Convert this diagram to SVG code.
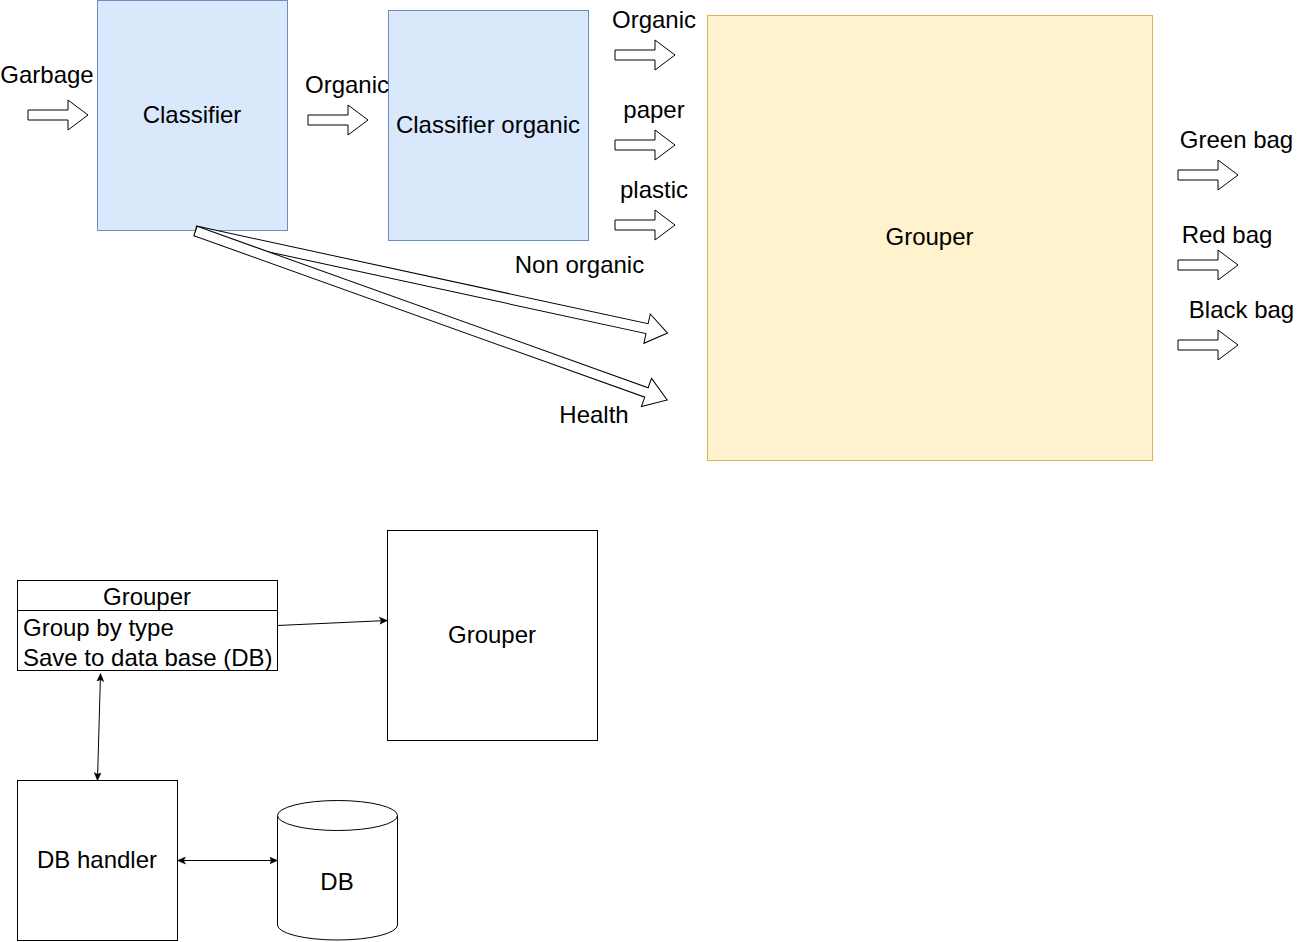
<svg xmlns="http://www.w3.org/2000/svg" width="1308" height="942" viewBox="0 0 1308 942">
<style>
text{font-family:"Liberation Sans",Arial,sans-serif;font-size:24px;fill:#000;}
.c{text-anchor:middle;}
.blue{fill:#dae8fc;stroke:#6c8ebf;stroke-width:1;}
.yellow{fill:#fff2cc;stroke:#d6b656;stroke-width:1;}
.plain{fill:#fff;stroke:#000;stroke-width:1;}
.barrow{fill:#fff;stroke:#000;stroke-width:1;stroke-linejoin:miter;}
.conn{fill:none;stroke:#000;stroke-width:1;}
</style>
<defs>
<path id="ba" d="M0,-5 H40 V-15 L60,0 L40,15 V5 H0 Z"/>
<marker id="arr" viewBox="0 0 8 8" refX="7.5" refY="4" markerWidth="8" markerHeight="8" markerUnits="userSpaceOnUse" orient="auto-start-reverse">
<path d="M0,0.5 L8,4 L0,7.5 L2,4 Z" fill="#000" stroke="#000" stroke-width="0.5"/>
</marker>
</defs>
<rect width="1308" height="942" fill="#fff"/>

<g id="classifier"><rect class="blue" x="97.5" y="0.5" width="190" height="230"/><text class="c" x="192" y="123">Classifier</text></g>
<g id="classifier-organic"><rect class="blue" x="388.5" y="10.5" width="200" height="230"/><text class="c" x="488" y="133">Classifier organic</text></g>
<g id="grouper-main"><rect class="yellow" x="707.5" y="15.5" width="445" height="445"/><text class="c" x="929.5" y="245">Grouper</text></g>

<g id="labels">
<text class="c" x="47" y="83">Garbage</text>
<text class="c" x="347" y="93">Organic</text>
<text class="c" x="654" y="28">Organic</text>
<text class="c" x="654" y="118">paper</text>
<text class="c" x="654" y="198">plastic</text>
<text class="c" x="579.5" y="273">Non organic</text>
<text class="c" x="594" y="423">Health</text>
<text class="c" x="1236.5" y="148">Green bag</text>
<text class="c" x="1227" y="243">Red bag</text>
<text class="c" x="1241.5" y="318">Black bag</text>
</g>

<g id="block-arrows">
<use href="#ba" class="barrow" transform="translate(28,115)"/>
<use href="#ba" class="barrow" transform="translate(308,120)"/>
<use href="#ba" class="barrow" transform="translate(615,55)"/>
<use href="#ba" class="barrow" transform="translate(615,145)"/>
<use href="#ba" class="barrow" transform="translate(615,225)"/>
<use href="#ba" class="barrow" transform="translate(1178,175)"/>
<use href="#ba" class="barrow" transform="translate(1178,265)"/>
<use href="#ba" class="barrow" transform="translate(1178,345)"/>
<path class="barrow" d="M0,-5 H462 V-15 L483,0 L462,15 V5 H0 Z" transform="translate(195.5,231) rotate(12.2)"/>
<path class="barrow" d="M0,-5 H479 V-15 L501,0 L479,15 V5 H0 Z" transform="translate(195.5,231) rotate(19.7)"/>
</g>

<g id="grouper-class">
<rect class="plain" x="17.5" y="580.5" width="260" height="90"/>
<line class="conn" x1="17.5" y1="610.5" x2="277.5" y2="610.5"/>
<text class="c" x="147" y="605">Grouper</text>
<text x="23" y="636">Group by type</text>
<text x="23" y="666">Save to data base (DB)</text>
</g>
<g id="grouper-box"><rect class="plain" x="387.5" y="530.5" width="210" height="210"/><text class="c" x="492" y="643">Grouper</text></g>
<g id="db-handler"><rect class="plain" x="17.5" y="780.5" width="160" height="160"/><text class="c" x="97" y="868">DB handler</text></g>
<g id="db">
<path class="plain" d="M277.5,815.5 A60,15 0 0 1 397.5,815.5 V925 A60,15 0 0 1 277.5,925 Z"/>
<path class="conn" d="M277.5,815.5 A60,15 0 0 0 397.5,815.5"/>
<text class="c" x="337" y="890">DB</text>
</g>

<g id="connectors">
<line class="conn" x1="277.5" y1="625.5" x2="387" y2="620.5" marker-end="url(#arr)"/>
<line class="conn" x1="100.5" y1="674" x2="97.5" y2="780" marker-start="url(#arr)" marker-end="url(#arr)"/>
<line class="conn" x1="178" y1="860.5" x2="277" y2="860.5" marker-start="url(#arr)" marker-end="url(#arr)"/>
</g>
</svg>
